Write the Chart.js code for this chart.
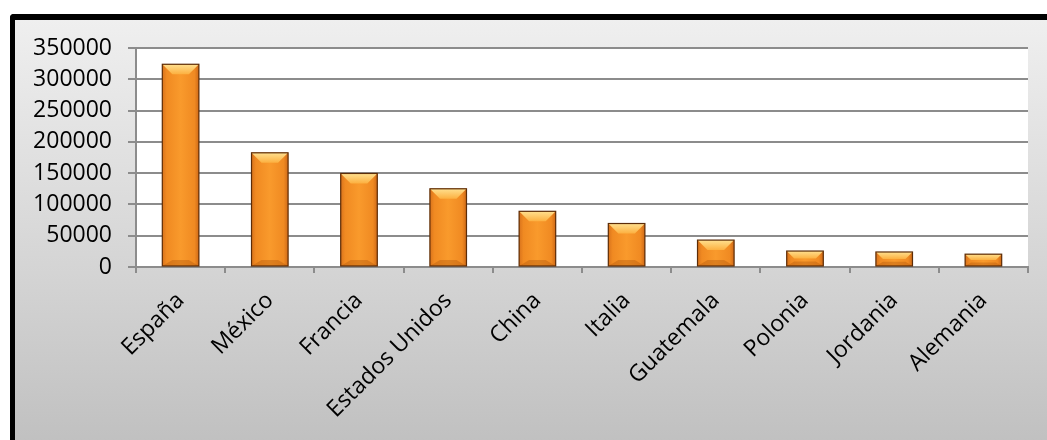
<!DOCTYPE html>
<html lang="es">
<head>
    <meta charset="UTF-8">
    <title>Chart</title>
    <style>
        body {
            margin: 0;
            padding: 0;
            width: 1047px;
            height: 440px;
            overflow: hidden;
            background: #fff;
            font-family: "Open Sans", sans-serif;
        }

        .frame {
            position: absolute;
            left: 10px;
            top: 14px;
            width: 1060px;
            height: 460px;
            border-left: 5px solid #000;
            border-top: 6px solid #000;
            border-top-left-radius: 4px;
            background: linear-gradient(to bottom, #efefef 0%, #d4d4d4 55%, #bcbcbc 100%);
        }

        #chart {
            position: absolute;
            left: 0;
            top: 0;
        }
    </style>
</head>
<body>
    <div class="frame"></div>
    <canvas id="chart" width="1047" height="440"></canvas>
    <script src="https://cdn.jsdelivr.net/npm/chart.js@4.4.1/dist/chart.umd.min.js"></script>
    <script>
        const categories = ['España', 'México', 'Francia', 'Estados Unidos', 'China', 'Italia', 'Guatemala', 'Polonia', 'Jordania', 'Alemania'];
        const values = [324000, 182500, 149500, 125000, 89000, 69500, 43000, 25500, 24000, 20500];
        const yTicks = [0, 50000, 100000, 150000, 200000, 250000, 300000, 350000];

        // white plot area behind the bars
        const plotBg = {
            id: 'plotBg',
            beforeDraw(chart) {
                const a = chart.chartArea;
                const ctx = chart.ctx;
                ctx.save();
                ctx.fillStyle = '#ffffff';
                ctx.fillRect(a.left, a.top, a.right - a.left, a.bottom - a.top);
                ctx.restore();
            }
        };

        // shaded bars with a bevel on top, drawn over the library's bar elements
        const bevel = {
            id: 'bevel',
            afterDatasetsDraw(chart) {
                const ctx = chart.ctx;
                const meta = chart.getDatasetMeta(0);
                meta.data.forEach(bar => {
                    const left = bar.x - bar.width / 2;
                    const right = bar.x + bar.width / 2;
                    const top = bar.y;
                    const bottom = bar.base;
                    const h = bottom - top;
                    const b = Math.min(10, h / 2);

                    ctx.save();
                    let g = ctx.createLinearGradient(left, 0, right, 0);
                    g.addColorStop(0, '#d9731c');
                    g.addColorStop(0.12, '#f08a22');
                    g.addColorStop(0.5, '#f99a2c');
                    g.addColorStop(0.88, '#f08a22');
                    g.addColorStop(1, '#cf6a18');
                    ctx.fillStyle = g;
                    ctx.fillRect(left, top, right - left, h);

                    // bottom darker band
                    ctx.beginPath();
                    ctx.moveTo(left, bottom);
                    ctx.lineTo(left + b, bottom - b * 0.6);
                    ctx.lineTo(right - b, bottom - b * 0.6);
                    ctx.lineTo(right, bottom);
                    ctx.closePath();
                    ctx.fillStyle = 'rgba(170, 80, 10, 0.35)';
                    ctx.fill();

                    // top bevel
                    g = ctx.createLinearGradient(0, top, 0, top + b);
                    g.addColorStop(0, '#ffe08f');
                    g.addColorStop(1, '#fcb040');
                    ctx.beginPath();
                    ctx.moveTo(left, top);
                    ctx.lineTo(right, top);
                    ctx.lineTo(right - b, top + b);
                    ctx.lineTo(left + b, top + b);
                    ctx.closePath();
                    ctx.fillStyle = g;
                    ctx.fill();

                    ctx.strokeStyle = '#5c2c08';
                    ctx.lineWidth = 1.2;
                    ctx.strokeRect(left, top, right - left, h);
                    ctx.restore();
                });
            }
        };

        new Chart(document.getElementById('chart'), {
            type: 'bar',
            data: {
                labels: categories,
                datasets: [{
                    data: values,
                    backgroundColor: '#f7921e',
                    barPercentage: 0.41,
                    categoryPercentage: 1
                }]
            },
            options: {
                responsive: false,
                animation: false,
                layout: {
                    padding: { top: 48, right: 19, left: 0, bottom: 0 }
                },
                plugins: {
                    legend: { display: false },
                    tooltip: { enabled: false }
                },
                scales: {
                    x: {
                        grid: {
                            offset: true,
                            drawOnChartArea: false,
                            drawTicks: true,
                            tickLength: 6,
                            color: '#8c8c8c',
                            lineWidth: 2
                        },
                        border: { color: '#8c8c8c', width: 2 },
                        ticks: {
                            color: '#000',
                            minRotation: 45,
                            maxRotation: 45,
                            padding: 14,
                            font: { family: 'Open Sans', size: 23 }
                        },
                        afterFit(scale) {
                            scale.height = 173;
                        }
                    },
                    y: {
                        min: 0,
                        max: 350000,
                        afterBuildTicks(scale) {
                            scale.ticks = yTicks.map(v => ({ value: v }));
                        },
                        grid: {
                            color: '#8c8c8c',
                            lineWidth: 2,
                            tickLength: 8
                        },
                        border: { color: '#8c8c8c', width: 2 },
                        ticks: {
                            color: '#000',
                            padding: 16,
                            font: { family: 'Open Sans', size: 23 },
                            callback: v => String(v)
                        },
                        afterFit(scale) {
                            scale.width = 136;
                        }
                    }
                }
            },
            plugins: [plotBg, bevel]
        });
    </script>
</body>
</html>
